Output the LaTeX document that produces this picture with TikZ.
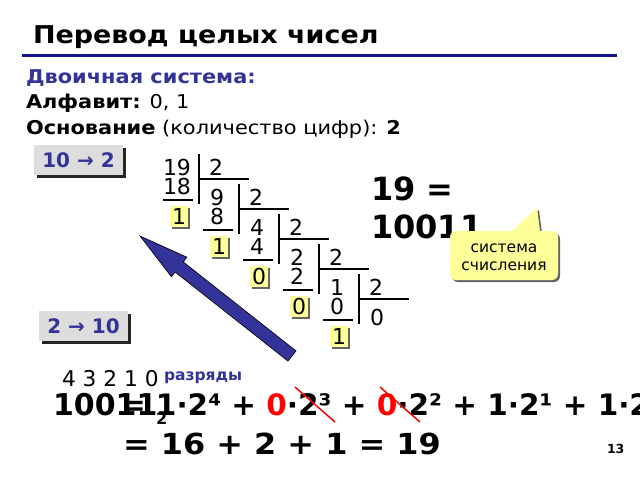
\documentclass[tikz,border=0pt]{standalone}
\usepackage{fontspec}
\setmainfont{DejaVu Sans}
\newfontfamily\widesans[FakeStretch=1.1]{DejaVu Sans}
\usetikzlibrary{shadows}
\definecolor{navyline}{RGB}{20,20,140}
\definecolor{dblue}{RGB}{51,51,153}
\definecolor{remyellow}{RGB}{255,255,153}
\definecolor{boxgray}{RGB}{221,221,221}
\begin{document}
\begin{tikzpicture}[x=1pt,y=-1pt,
  txt/.style={anchor=base west, inner sep=0pt, outer sep=0pt},
  num/.style={anchor=base, inner sep=0pt, font=\fontsize{22}{26}\selectfont},
  rem/.style={fill=remyellow, inner sep=0pt, minimum width=18pt, minimum height=21pt,
    font=\fontsize{22}{26}\selectfont,
    drop shadow={shadow xshift=1.5pt, shadow yshift=-1.5pt, fill=black!60, opacity=1}},
  conv/.style={fill=boxgray, inner sep=0pt, minimum width=89pt, minimum height=30pt,
    text=dblue, font=\bfseries\fontsize{20}{24}\selectfont,
    drop shadow={shadow xshift=3pt, shadow yshift=-3pt, fill=black!85, opacity=1}},
  rule/.style={line width=1.2pt},
  strike/.style={red, line width=1.5pt},
]
\useasboundingbox (0,0) rectangle (640,480);
\fill[white] (0,0) rectangle (640,480);
\clip (0,0) rectangle (640,480);

% title
\node[txt, font=\widesans\bfseries\fontsize{24.5}{30}\selectfont] (title) at (33,43) {Перевод целых чисел};
\coordinate (l1) at (22,55);
\coordinate (l2) at (617,55);
\draw[navyline, line width=3pt] (l1) -- (l2);

\node[txt, font=\widesans\bfseries\fontsize{19}{23}\selectfont, text=dblue] (bin) at (26,83) {Двоичная система:};
\node[txt, font=\widesans\fontsize{19}{23}\selectfont] (alph) at (26,108) {\textbf{Алфавит:} 0, 1};
\node[txt, font=\widesans\fontsize{19}{23}\selectfont] (osn) at (26,134) {\textbf{Основание} (количество цифр): \textbf{2}};

% conversion boxes
\node[conv] (b102) at (78.5,160) {10 → 2};
\node[conv] (b210) at (83.5,326) {2 → 10};

% division ladder
\foreach \k/\a/\p/\r in {0/19/18/1, 1/9/8/1, 2/4/4/0, 3/2/2/0, 4/1/0/1} {
  \pgfmathsetmacro\bx{199+40*\k}
  \pgfmathsetmacro\ty{154+30*\k}
  \node[num] (d\k) at (\bx-22, \ty+21) {\a};
  \node[num] (s\k) at (\bx+17, \ty+21) {2};
  \node[num] (p\k) at (\bx-22, \ty+40) {\p};
  \node[rem] (r\k) at (\bx-20, \ty+62.5) {\r};
  \coordinate (vt\k) at (\bx, \ty);
  \coordinate (vb\k) at (\bx, \ty+50);
  \coordinate (hl\k) at (\bx, \ty+25);
  \coordinate (hr\k) at (\bx+50, \ty+25);
  \coordinate (ul\k) at (\bx-36, \ty+46);
  \coordinate (ur\k) at (\bx-6, \ty+46);
  \draw[rule] (vt\k) -- (vb\k);
  \draw[rule] (hl\k) -- (hr\k);
  \draw[rule] (ul\k) -- (ur\k);
}
\node[num] (q) at (377,325) {0};

% result
\node[txt, font=\bfseries\fontsize{32}{38}\selectfont] (eq1) at (371,200) {19 =};
\node[txt, font=\bfseries\fontsize{32}{38}\selectfont] (eq2) at (371,238) {10011};

% callout
\coordinate (cpa) at (512,231);
\coordinate (cpb) at (537,208);
\coordinate (cpc) at (540,231);
\coordinate (cpas) at (514,233);
\coordinate (cpbs) at (539,210);
\coordinate (cpcs) at (542,233);
\fill[black!60] (cpas) -- (cpbs) -- (cpcs) -- cycle;
\node[fill=remyellow, rounded corners=6pt, minimum width=108pt, minimum height=49pt, inner sep=0pt,
  drop shadow={shadow xshift=2pt, shadow yshift=-2pt, fill=black!60, opacity=1}] (callout) at (504,255.5) {};
\fill[remyellow] (cpa) -- (cpb) -- (cpc) -- ([yshift=-3pt]cpc) -- ([yshift=-3pt]cpa) -- cycle;
\node[anchor=base, inner sep=0pt, font=\fontsize{15.5}{18}\selectfont] (cs1) at (504,252) {система};
\node[anchor=base, inner sep=0pt, font=\fontsize{15.5}{18}\selectfont] (cs2) at (504,270) {счисления};

% big arrow
\filldraw[fill=dblue, draw=black, line width=0.6pt]
  (140,236) -- (186.95,257.2) -- (183.23,261.9) -- (296.03,350.9)
  -- (287.97,361.1) -- (175.17,272.1) -- (171.45,276.8) -- cycle;

% bottom formula
\node[txt, font=\fontsize{21.7}{26}\selectfont] (digits) at (62,386) {4 3 2 1 0};
\node[txt, font=\bfseries\fontsize{15.5}{18}\selectfont, text=dblue] (razr) at (164,380) {разряды};
\node[txt, font=\bfseries\fontsize{30}{36}\selectfont] (num2) at (53,415) {10011};
\node[txt, font=\bfseries\fontsize{16}{19}\selectfont] (sub2) at (156,424) {2};
\node[txt, font=\bfseries\fontsize{29.5}{36}\selectfont] (expand) at (121,415)
  {= 1·2⁴ + \textcolor{red}{0}·2³ + \textcolor{red}{0}·2² + 1·2¹ + 1·2⁰};
\node[txt, font=\widesans\bfseries\fontsize{29}{36}\selectfont] (sum) at (123,454) {= 16 + 2 + 1 = 19};
\coordinate (s1a) at (295,387);
\coordinate (s1b) at (335,422);
\coordinate (s2a) at (380,387);
\coordinate (s2b) at (420,422);
\draw[strike] (s1a) -- (s1b);
\draw[strike] (s2a) -- (s2b);
\node[txt, font=\bfseries\fontsize{12.5}{15}\selectfont] (pg) at (607,453) {13};
\end{tikzpicture}
\end{document}
